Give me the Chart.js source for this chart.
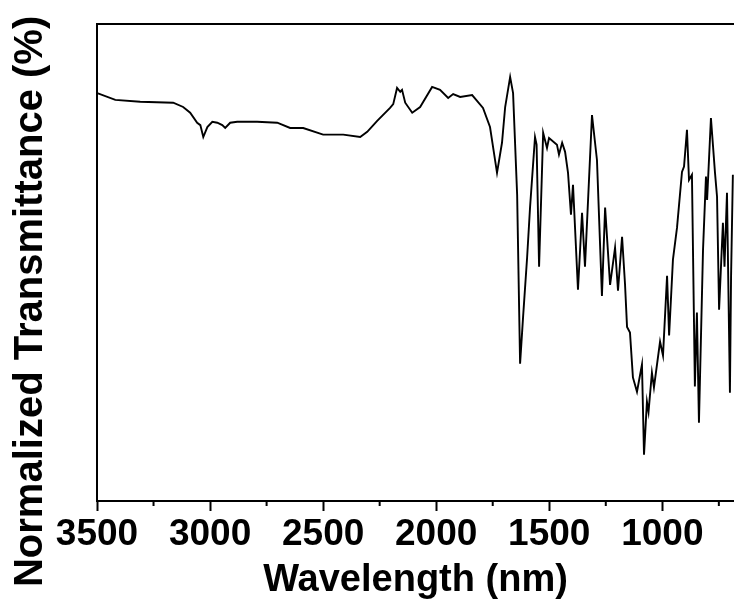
<!DOCTYPE html>
<html>
<head>
<meta charset="utf-8">
<script src="https://cdn.jsdelivr.net/npm/chart.js@4/dist/chart.umd.min.js"></script>
<style>
    body { margin: 0; background: #fff; }
    #wrap { width: 734px; height: 605px; position: relative; }
</style>
</head>
<body>
<div id="wrap"><canvas id="myChart"></canvas></div>
<script>
// spectrum (wavenumber, normalized transmittance %)
const wavelength = [3499, 3419, 3309, 3163, 3119, 3088, 3057, 3043, 3030, 3012,
    2990, 2968, 2946, 2933, 2911, 2880, 2792, 2703, 2646, 2588,
    2500, 2411, 2336, 2305, 2261, 2204, 2190, 2173, 2159, 2151,
    2137, 2106, 2071, 2018, 1983, 1947, 1925, 1894, 1841, 1793,
    1762, 1731, 1709, 1695, 1673, 1660, 1642, 1629, 1616, 1598,
    1585, 1563, 1556, 1545, 1527, 1510, 1501, 1466, 1457, 1443,
    1430, 1417, 1404, 1395, 1373, 1355, 1342, 1311, 1289, 1267,
    1253, 1231, 1209, 1196, 1178, 1165, 1156, 1143, 1130, 1112,
    1090, 1081, 1068, 1061, 1046, 1037, 1010, 997, 979, 970,
    953, 935, 913, 904, 891, 882, 869, 856, 847, 838,
    820, 807, 802, 785, 767, 758, 749, 732, 725, 714,
    701, 696, 688];
const transmittance = [85.5, 84.1, 83.7, 83.5, 82.6, 81.4, 79.3, 78.8, 76.3, 78.4,
    79.5, 79.3, 78.8, 78.2, 79.3, 79.5, 79.5, 79.3, 78.2, 78.2,
    76.8, 76.8, 76.3, 77.4, 79.7, 82.4, 83.2, 86.6, 85.8, 86.2,
    83.5, 81.4, 82.6, 86.8, 86.2, 84.5, 85.3, 84.7, 85.1, 82.4,
    78.4, 68.8, 75.1, 82.6, 88.9, 85.5, 64.2, 28.8, 38.4, 51.0,
    61.5, 76.3, 74.7, 49.1, 77.2, 74.0, 76.1, 74.7, 72.6, 75.1,
    73.2, 68.8, 60.0, 66.3, 44.3, 60.4, 49.1, 80.9, 71.5, 43.0,
    61.5, 45.3, 53.1, 44.1, 55.4, 45.5, 36.5, 35.3, 25.9, 22.9,
    28.6, 9.7, 20.8, 18.7, 26.9, 23.8, 33.4, 30.5, 47.2, 34.7,
    50.6, 57.3, 69.0, 70.1, 77.8, 67.3, 68.4, 24.0, 39.5, 16.4,
    52.7, 68.0, 63.1, 80.3, 68.8, 63.8, 40.1, 58.3, 49.1, 64.6,
    22.7, 47.0, 68.4];
const majorTicks = [3500, 3000, 2500, 2000, 1500, 1000];
const minorTicks = [3250, 2750, 2250, 1750, 1250, 750];

const font = 'Liberation Sans, Arial, sans-serif';

// minor ticks and top frame line
const framePlugin = {
    id: 'frame',
    afterDraw(chart) {
        const { ctx, chartArea, scales } = chart;
        ctx.save();
        ctx.strokeStyle = '#000';
        ctx.lineWidth = 2;
        ctx.beginPath();
        ctx.moveTo(chartArea.left - 1, chartArea.top);
        ctx.lineTo(chartArea.right, chartArea.top);
        minorTicks.forEach(v => {
            const px = scales.x.getPixelForValue(v);
            ctx.moveTo(px, chartArea.bottom);
            ctx.lineTo(px, chartArea.bottom + 5);
        });
        ctx.stroke();
        ctx.restore();
    }
};

const ctx = document.getElementById('myChart').getContext('2d');
const myChart = new Chart(ctx, {
    type: 'line',
    data: {
        datasets: [{
            data: wavelength.map((w, i) => ({ x: w, y: transmittance[i] })),
            borderColor: '#000',
            borderWidth: 1.9,
            pointRadius: 0,
            tension: 0,
            fill: false
        }]
    },
    options: {
        responsive: true,
        maintainAspectRatio: false,
        animation: false,
        layout: { padding: { top: 24, right: 0, bottom: 0, left: 0 } },
        plugins: { legend: { display: false }, tooltip: { enabled: false } },
        scales: {
            x: {
                type: 'linear',
                reverse: true,
                min: 683,
                max: 3500,
                afterBuildTicks: (scale) => { scale.ticks = majorTicks.map(v => ({ value: v })); },
                afterFit: (scale) => { scale.height = 104; },
                grid: { display: true, drawOnChartArea: false, tickLength: 10, tickWidth: 2, tickColor: '#000' },
                border: { display: true, color: '#000', width: 2 },
                ticks: {
                    color: '#000',
                    padding: 2,
                    maxRotation: 0,
                    font: { family: font, size: 37, weight: 'bold' },
                    callback: (v) => String(v)
                },
                title: {
                    display: true,
                    text: 'Wavelength (nm)',
                    color: '#000',
                    padding: { top: 0, bottom: 2 },
                    font: { family: font, size: 38, weight: 'bold' }
                }
            },
            y: {
                min: 0,
                max: 100,
                afterFit: (scale) => { scale.width = 97; },
                grid: { display: false, drawTicks: false },
                border: { display: true, color: '#000', width: 2 },
                ticks: { display: false },
                title: {
                    display: true,
                    text: 'Normalized Transmittance (%)       ',
                    color: '#000',
                    padding: { top: 7, bottom: 0 },
                    font: { family: font, size: 40, weight: 'bold' }
                }
            }
        }
    },
    plugins: [framePlugin]
});
</script>
</body>
</html>
